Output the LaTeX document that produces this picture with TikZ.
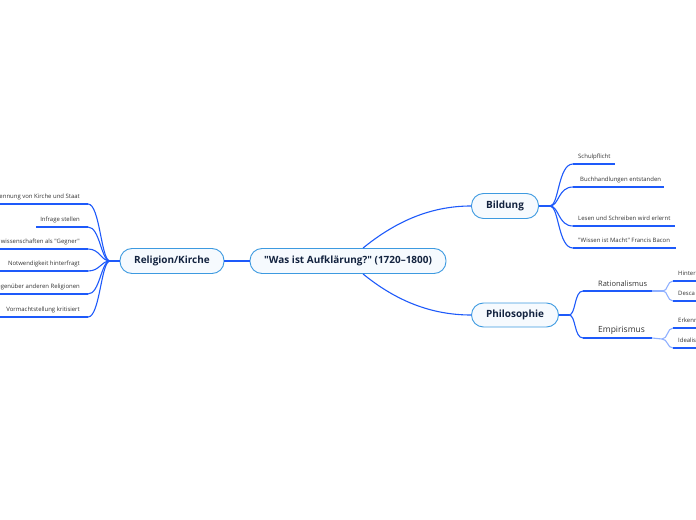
\documentclass[tikz,border=0pt]{standalone}
\usepackage{fontspec}
\setmainfont{Open Sans}[Ligatures=TeXOff]
\definecolor{mainblue}{HTML}{1E5AFA}
\definecolor{lightblue}{HTML}{8FB0FF}
\definecolor{nodeborder}{HTML}{3D9AE0}
\definecolor{nodefill}{HTML}{F6FAFE}
\definecolor{navy}{HTML}{13233F}
\definecolor{leaftext}{HTML}{333333}
\begin{document}
\begin{tikzpicture}[x=1bp,y=-1bp,
  topic/.style={draw=nodeborder, fill=nodefill, rounded corners=12bp, line width=0.9bp,
    text=navy, font=\fontsize{10}{12}\selectfont\bfseries, minimum height=25bp, inner sep=0pt, align=center},
  leaf/.style={font=\fontsize{6}{7}\selectfont, text=leaftext, inner sep=0pt, text height=4.4bp, text depth=1.3bp},
  sub/.style={font=\fontsize{7.5}{9}\selectfont, text=leaftext, inner sep=0pt},
  conn/.style={draw=mainblue, line width=1.1bp},
  uline/.style={draw=mainblue, line width=1.4bp},
  lconn/.style={draw=lightblue, line width=1.1bp}]
\useasboundingbox (0,0) rectangle (696,520);
\clip (0,0) rectangle (696,520);

% main nodes
\node[topic, minimum width=196bp] (center) at (348,261) {"Was ist Aufklärung?" (1720–1800)};
\node[topic, minimum width=104bp] (rel) at (172,261) {Religion/Kirche};
\node[topic, minimum width=67bp] (bild) at (505,206) {Bildung};
\node[topic, minimum width=87bp, minimum height=24bp] (phil) at (515,315) {Philosophie};

\draw[conn] (rel.east) -- (center.west);
\draw[conn] ([xshift=15bp]center.north) .. controls (395,222) and (430,206) .. (bild.west);
\draw[conn] ([xshift=15bp]center.south) .. controls (395,300) and (430,315) .. (phil.west);

% Religion/Kirche children
\coordinate (rj) at (110,261);
\draw[conn] (rel.west) -- (rj);
\foreach \n/\y/\xs/\t in {r1/204/-5/{ennung von Kirche und Staat},
                          r2/227/36/{Infrage stellen},
                          r3/249/-5/{wissenschaften als "Gegner"},
                          r4/271/-5/{Notwendigkeit hinterfragt},
                          r5/294/-5/{egenüber anderen Religionen},
                          r6/317/-5/{Vormachtstellung kritisiert}}{
  \coordinate (\n e) at (88,\y);
  \coordinate (\n w) at (\xs,\y);
  \node[leaf, anchor=east] (\n) at (80,\y-7) {\t};
  \draw[conn] (rj) .. controls (101,261) and (100,\y) .. (\n e);
  \draw[uline] (\n e) -- (\n w);
}

% Bildung children
\coordinate (bj) at (550,206);
\draw[conn] (bild.east) -- (bj);
\foreach \n/\y/\xe/\xt/\t in {b1/164/615/578/{Schulpflicht},
                          b2/187/664/580/{Buchhandlungen entstanden},
                          b3/226/675/578/{Lesen und Schreiben wird erlernt},
                          b4/248/676/578/{"Wissen ist Macht" Francis Bacon}}{
  \coordinate (\n s) at (573,\y);
  \coordinate (\n f) at (\xe,\y);
  \node[leaf, anchor=west] (\n) at (\xt,\y-7) {\t};
  \draw[conn] (bj) .. controls (559,206) and (558,\y) .. (\n s);
  \draw[uline] (\n s) -- (\n f);
}

% Philosophie children
\coordinate (pj) at (569,315);
\draw[conn] (phil.east) -- (pj);
\coordinate (p1s) at (583,291); \coordinate (p1f) at (652,291);
\coordinate (p2s) at (583,338); \coordinate (p2f) at (652,338);
\node[sub, anchor=west] (ratio) at (598,284) {Rationalismus};
\node[sub, font=\fontsize{8.5}{10}\selectfont, anchor=west] (empi) at (598,330) {Empirismus};
\draw[conn] (pj) .. controls (576,315) and (574,291) .. (p1s);
\draw[conn] (pj) .. controls (576,315) and (574,338) .. (p2s);
\draw[uline] (p1s) -- (p1f);
\draw[uline] (p2s) -- (p2f);

% third level
\coordinate (rj2) at (663,291);
\coordinate (ej2) at (662,339);
\draw[lconn] (p1f) -- (rj2);
\draw[lconn] (p2f) -- (ej2);
\foreach \n/\j/\jy/\y/\t in {t1/rj2/291/281/{Hinter},
                             t2/rj2/291/301/{Desca},
                             t3/ej2/339/328/{Erkenn},
                             t4/ej2/339/348/{Idealis}}{
  \coordinate (\n s) at (673,\y);
  \coordinate (\n f) at (700,\y);
  \node[leaf, anchor=west] (\n) at (678,\y-7) {\t};
  \draw[lconn] (\j) .. controls (668,\jy) and (667,\y) .. (\n s);
  \draw[uline] (\n s) -- (\n f);
}
\end{tikzpicture}
\end{document}
